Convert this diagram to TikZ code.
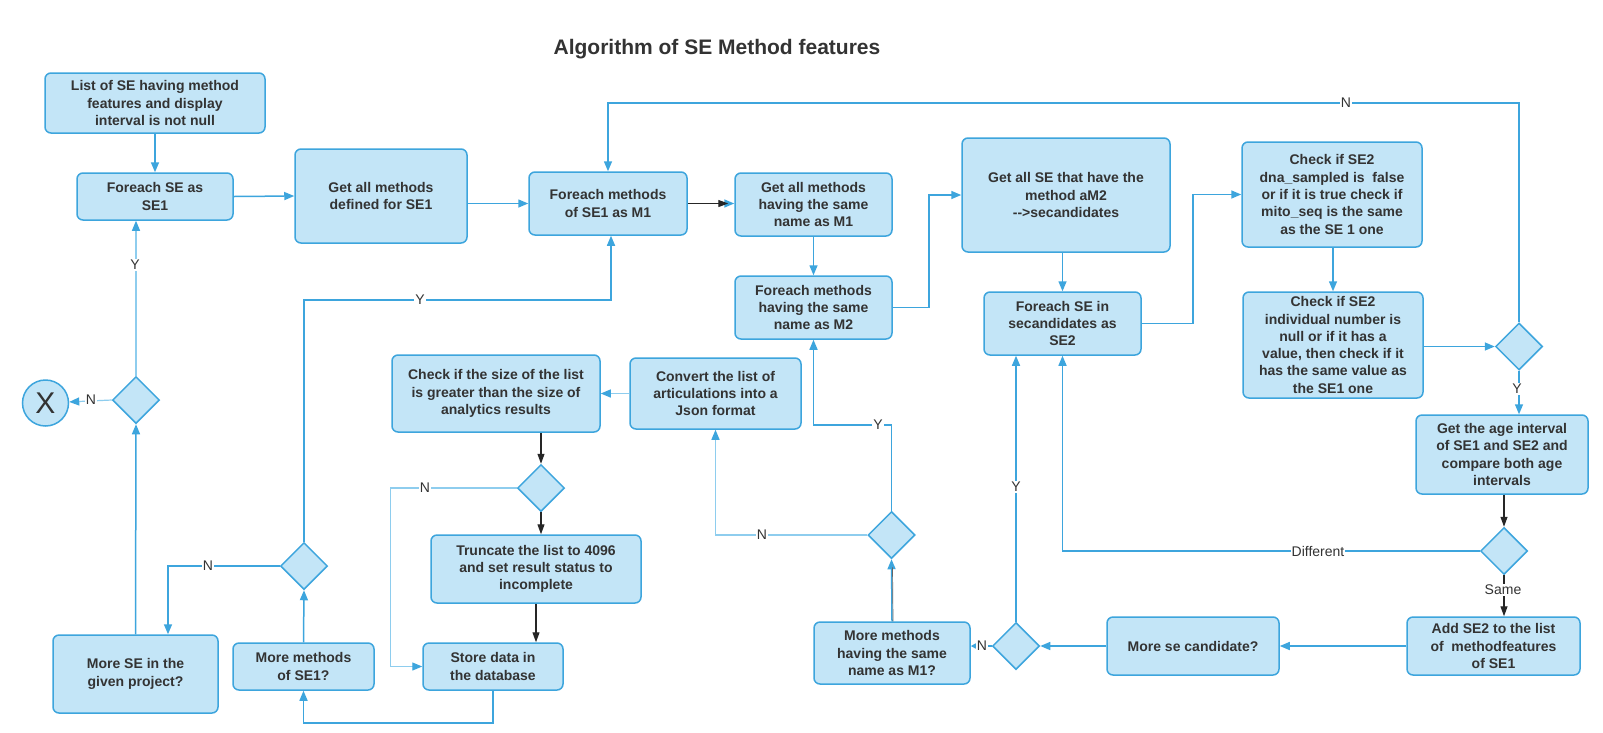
\documentclass[tikz,border=0pt]{standalone}
\usepackage{fontspec}
\setmainfont{Liberation Sans}
\usetikzlibrary{arrows.meta,shapes.geometric,calc}
\definecolor{boxfill}{HTML}{C3E5F7}
\definecolor{boxline}{HTML}{3DA5DD}
\definecolor{lightline}{HTML}{8ECDEE}
\definecolor{txt}{HTML}{333333}
\begin{document}
\begin{tikzpicture}[x=1pt,y=-1pt,
 box/.style={draw=boxline, fill=boxfill, line width=1.5pt, rounded corners=6pt, align=center, inner sep=0pt, text=txt, font=\fontsize{14}{17.3}\selectfont\bfseries},
 dec/.style={diamond, draw=boxline, fill=boxfill, line width=1.5pt, inner sep=0pt, minimum width=47pt, minimum height=47pt},
 conn/.style={draw=boxline, line width=1.5pt, -{Triangle[length=10pt,width=8pt]}},
 light/.style={draw=lightline, line width=1.2pt, -{Triangle[length=10pt,width=8pt,color=boxline]}},
 dark/.style={draw=black!85, line width=1.2pt, -{Triangle[length=10pt,width=7pt]}},
 lbl/.style={fill=white, inner sep=1pt, text=txt, font=\fontsize{14}{14}\selectfont},
]
\useasboundingbox (0,0) rectangle (1603,732);
\fill[white] (0,0) rectangle (1603,732);

\node[text=txt, font=\fontsize{21}{21}\selectfont\bfseries] (title) at (717,49) {Algorithm of SE Method features};

% boxes
\node[box, minimum width=220pt, minimum height=60pt] (L0) at (155,103) {List of SE having method\\features and display\\interval is not null};
\node[box, minimum width=156pt, minimum height=47pt] (FE1) at (155,196.5) {Foreach SE as\\SE1};
\node[box, minimum width=172pt, minimum height=94pt] (GAM) at (381,196) {Get all methods\\defined for SE1};
\node[box, minimum width=158pt, minimum height=63pt] (FEM1) at (608,203.5) {Foreach methods\\of SE1 as M1};
\node[box, minimum width=157pt, minimum height=63pt] (GAMS) at (813.5,204.5) {Get all methods\\having the same\\name as M1};
\node[box, minimum width=157pt, minimum height=63pt] (FEM2) at (813.5,307.5) {Foreach methods\\having the same\\name as M2};
\node[box, minimum width=208pt, minimum height=114pt] (GSE) at (1066,195) {Get all SE that have the\\method aM2\\-{}->secandidates};
\node[box, minimum width=157pt, minimum height=63pt] (FESE2) at (1062.5,323.5) {Foreach SE in\\secandidates as\\SE2};
\node[box, minimum width=180pt, minimum height=105pt] (CHK1) at (1332,194.5) {Check if SE2\\dna\_sampled is\ \ false\\or if it is true check if\\mito\_seq is the same\\as the SE 1 one};
\node[box, minimum width=180pt, minimum height=106pt] (CHK2) at (1333,345) {Check if SE2\\individual number is\\null or if it has a\\value, then check if it\\has the same value as\\the SE1 one};
\node[dec] (D1) at (1519,346.5) {};
\node[box, minimum width=172pt, minimum height=79pt] (AGE) at (1502,454.5) {Get the age interval\\of SE1 and SE2 and\\compare both age\\intervals};
\node[dec] (D2) at (1504,551) {};
\node[box, minimum width=173pt, minimum height=58pt] (ADD) at (1493.5,646) {Add SE2 to the list\\of\ \ methodfeatures\\of SE1};
\node[box, minimum width=172pt, minimum height=58pt] (MSC) at (1193,646) {More se candidate?};
\node[dec] (D3) at (1016,646) {};
\node[box, minimum width=156pt, minimum height=62pt] (MMS) at (892,653) {More methods\\having the same\\name as M1?};
\node[dec] (D4) at (891.5,535) {};
\node[box, minimum width=171pt, minimum height=71pt] (CONV) at (715.5,393.5) {Convert the list of\\articulations into a\\Json format};
\node[box, minimum width=208pt, minimum height=77pt] (CHKS) at (496,393.5) {Check if the size of the list\\is greater than the size of\\analytics results};
\node[dec] (D5) at (541,488) {};
\node[box, minimum width=210pt, minimum height=68pt] (TRUNC) at (536,569) {Truncate the list to 4096\\and set result status to\\incomplete};
\node[box, minimum width=140pt, minimum height=47pt] (STORE) at (493,666.5) {Store data in\\the database};
\node[box, minimum width=141pt, minimum height=47pt] (MMSE1) at (303.5,666.5) {More methods\\of SE1?};
\node[dec] (D6) at (304,566) {};
\node[box, minimum width=165pt, minimum height=78pt] (MSE) at (135.5,674) {More SE in the\\given project?};
\node[dec] (D7) at (136,400) {};
\node[circle, draw=boxline, fill=boxfill, line width=1.5pt, minimum size=46pt, inner sep=0pt, text=txt, font=\fontsize{30}{30}\selectfont] (END) at (45.5,403) {X};

\coordinate (ntop) at (0,103);
\coordinate (ytop) at (0,300);
\coordinate (y4) at (0,425);

% connectors
\draw[conn] (L0.south) -- (FE1.north);
\draw[conn] (FE1.east) -- (GAM.west);
\draw[conn] (GAM.east |- FEM1.west) -- (FEM1.west);
\draw[conn] (FEM1.east) -- (GAMS.west |- FEM1.east);
\draw[dark] (FEM1.east) -- ($(GAMS.west |- FEM1.east)+(-6,0)$);
\draw[conn] (GAMS.south) -- (FEM2.north);
\draw[conn] (FEM2.east) -- ++(36,0) |- (GSE.west);
\draw[conn] (FESE2.north |- GSE.south) -- (FESE2.north);
\draw[conn] (FESE2.east) -- ++(51,0) |- (CHK1.west);
\draw[conn] (CHK2.north |- CHK1.south) -- (CHK2.north);
\draw[conn] (CHK2.east |- D1.west) -- (D1.west);
\draw[conn] (D1.north) -- (D1.north |- ntop) -| (FEM1.north);
\draw[conn] (D1.south) -- (D1.south |- AGE.north);
\draw[dark] (D2.north |- AGE.south) -- (D2.north);
\draw[conn] (D2.west) -| (FESE2.south);
\draw[dark] (D2.south) -- (D2.south |- ADD.north);
\draw[conn] (ADD.west) -- (MSC.east);
\draw[conn] (MSC.west) -- (D3.east);
\draw[conn] (D3.north) -- (D3.north |- FESE2.south);
\draw[draw=boxline, line width=1.2pt, -{Triangle[length=5pt,width=5pt]}] (D3.west) -- (MMS.east |- D3.west);
\draw[conn] (MMS.north) -- (D4.south);
\draw[black!60, line width=0.7pt] ($(MMS.north)+(1,0)$) -- ($(D4.south)+(1,8)$);
\draw[conn] (D4.north) -- (D4.north |- y4) -| (FEM2.south);
\draw[light] (D4.west) -| (CONV.south);
\draw[light] (CONV.west) -- (CHKS.east |- CONV.west);
\draw[dark] (D5.north |- CHKS.south) -- (D5.north);
\draw[dark] (D5.south) -- (D5.south |- TRUNC.north);
\draw[light] (D5.west) -- ++(-126.5,0) |- (STORE.west);
\draw[dark] (TRUNC.south) -- (TRUNC.south |- STORE.north);
\draw[conn] (STORE.south) -- ++(0,32) -| (MMSE1.south);
\draw[conn] (MMSE1.north) -- (D6.south);
\draw[conn] (D6.north) -- (D6.north |- ytop) -| ($(FEM1.south)+(3,0)$);
\draw[conn] (D6.west) -| ($(MSE.north)+(32.5,0)$);
\draw[conn] (MSE.north) -- (D7.south);
\draw[light] (D7.north) -- (D7.north |- FE1.south);
\draw[light] (D7.west) -- (END);

% labels
\node[lbl] (lN1) at (1346,103) {N};
\node[lbl] (lY1) at (1517,389) {Y};
\node[lbl] (lDiff) at (1318,551) {Different};
\node[lbl] (lSame) at (1503,590) {Same};
\node[lbl] (lY2) at (1016,487) {Y};
\node[lbl, inner sep=0.5pt] (lN2) at (982,646) {N};
\node[lbl] (lY3) at (878,425) {Y};
\node[lbl] (lN3) at (762,535) {N};
\node[lbl] (lN4) at (425,488) {N};
\node[lbl] (lY4) at (420,300) {Y};
\node[lbl] (lN5) at (208,566) {N};
\node[lbl] (lY5) at (135,265) {Y};
\node[lbl] (lN6) at (91,400) {N};
\end{tikzpicture}
\end{document}
